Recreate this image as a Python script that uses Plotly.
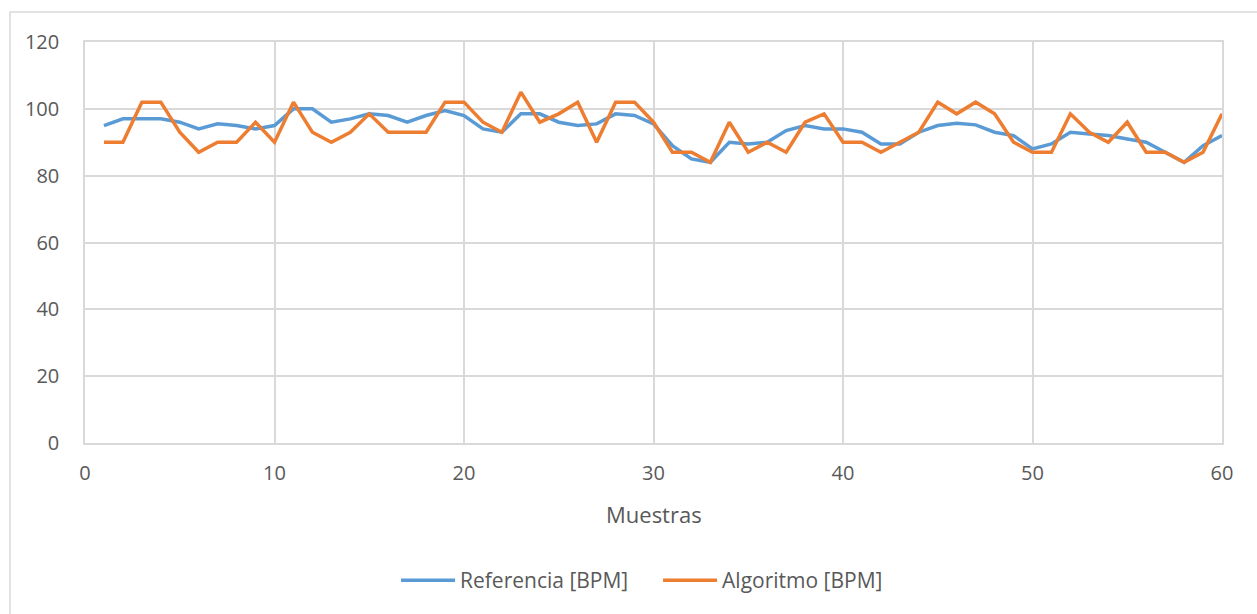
import plotly.graph_objects as go

# Muestras 1..60 y frecuencia cardiaca en BPM
muestras = list(range(1, 61))

referencia_bpm = [
    95, 97, 97, 97, 96, 94, 95.5, 95, 94, 95,
    100, 100, 96, 97, 98.5, 98, 96, 98, 99.5, 98,
    94, 93, 98.5, 98.5, 96, 95, 95.5, 98.5, 98, 95.5,
    89, 85, 84, 90, 89.5, 90, 93.5, 95, 94, 94,
    93, 89.5, 89.5, 93, 95, 95.7, 95.2, 93, 92, 88,
    89.5, 93, 92.5, 92, 91, 90, 87, 84, 89, 92,
]

algoritmo_bpm = [
    90, 90, 102, 102, 93, 87, 90, 90, 96, 90,
    102, 93, 90, 93, 98.5, 93, 93, 93, 102, 102,
    96, 93, 105, 96, 98.5, 102, 90, 102, 102, 96,
    87, 87, 84, 96, 87, 90, 87, 96, 98.5, 90,
    90, 87, 90, 93, 102, 98.5, 102, 98.5, 90, 87,
    87, 98.5, 93, 90, 96, 87, 87, 84, 87, 98.5,
]

x_ticks = [0, 10, 20, 30, 40, 50, 60]
y_ticks = [0, 20, 40, 60, 80, 100, 120]

FONT = "Open Sans"
TXT = "#595959"
GRID = "#d9d9d9"
FS = 20

fig = go.Figure()
fig.add_trace(go.Scatter(
    x=muestras, y=referencia_bpm, mode="lines", name="Referencia [BPM]",
    line=dict(color="#5B9BD5", width=3.5),
))
fig.add_trace(go.Scatter(
    x=muestras, y=algoritmo_bpm, mode="lines", name="Algoritmo [BPM]",
    line=dict(color="#ED7D31", width=3.5),
))

fig.update_layout(
    width=1257, height=614,
    margin=dict(l=85, r=35, t=42, b=171),
    paper_bgcolor="white", plot_bgcolor="white",
    font=dict(family=FONT, size=FS, color=TXT),
    showlegend=True,
    legend=dict(orientation="h", x=0.504, xanchor="center", y=-0.343, yanchor="middle",
                font=dict(family=FONT, size=21, color=TXT),
                itemwidth=54, entrywidth=193, entrywidthmode="pixels"),
    annotations=[dict(text="Muestras", x=0.5, y=-0.178, xref="paper", yref="paper",
                      xanchor="center", yanchor="middle", showarrow=False,
                      font=dict(family=FONT, size=22, color=TXT))],
    shapes=[dict(type="rect", xref="paper", yref="paper",
                 x0=(10 - 85) / 1137, x1=(1270 - 85) / 1137,
                 y0=(442 - 640) / 400, y1=(442 - 12) / 400,
                 line=dict(color=GRID, width=1.5), layer="below")],
)

fig.update_xaxes(
    range=[0, 60], tickvals=x_ticks, showgrid=True, gridcolor=GRID, gridwidth=1.5,
    showline=True, linecolor=GRID, linewidth=1.5, mirror=True, zeroline=False,
    ticks="outside", ticklen=11, tickcolor="rgba(0,0,0,0)",
    tickfont=dict(family=FONT, size=FS, color=TXT),
)
fig.update_yaxes(
    range=[0, 120], tickvals=y_ticks, showgrid=True, gridcolor=GRID, gridwidth=1.5,
    showline=True, linecolor=GRID, linewidth=1.5, mirror=True, zeroline=False,
    ticklabelstandoff=20,
    tickfont=dict(family=FONT, size=FS, color=TXT),
)

fig.write_html("out.html")
